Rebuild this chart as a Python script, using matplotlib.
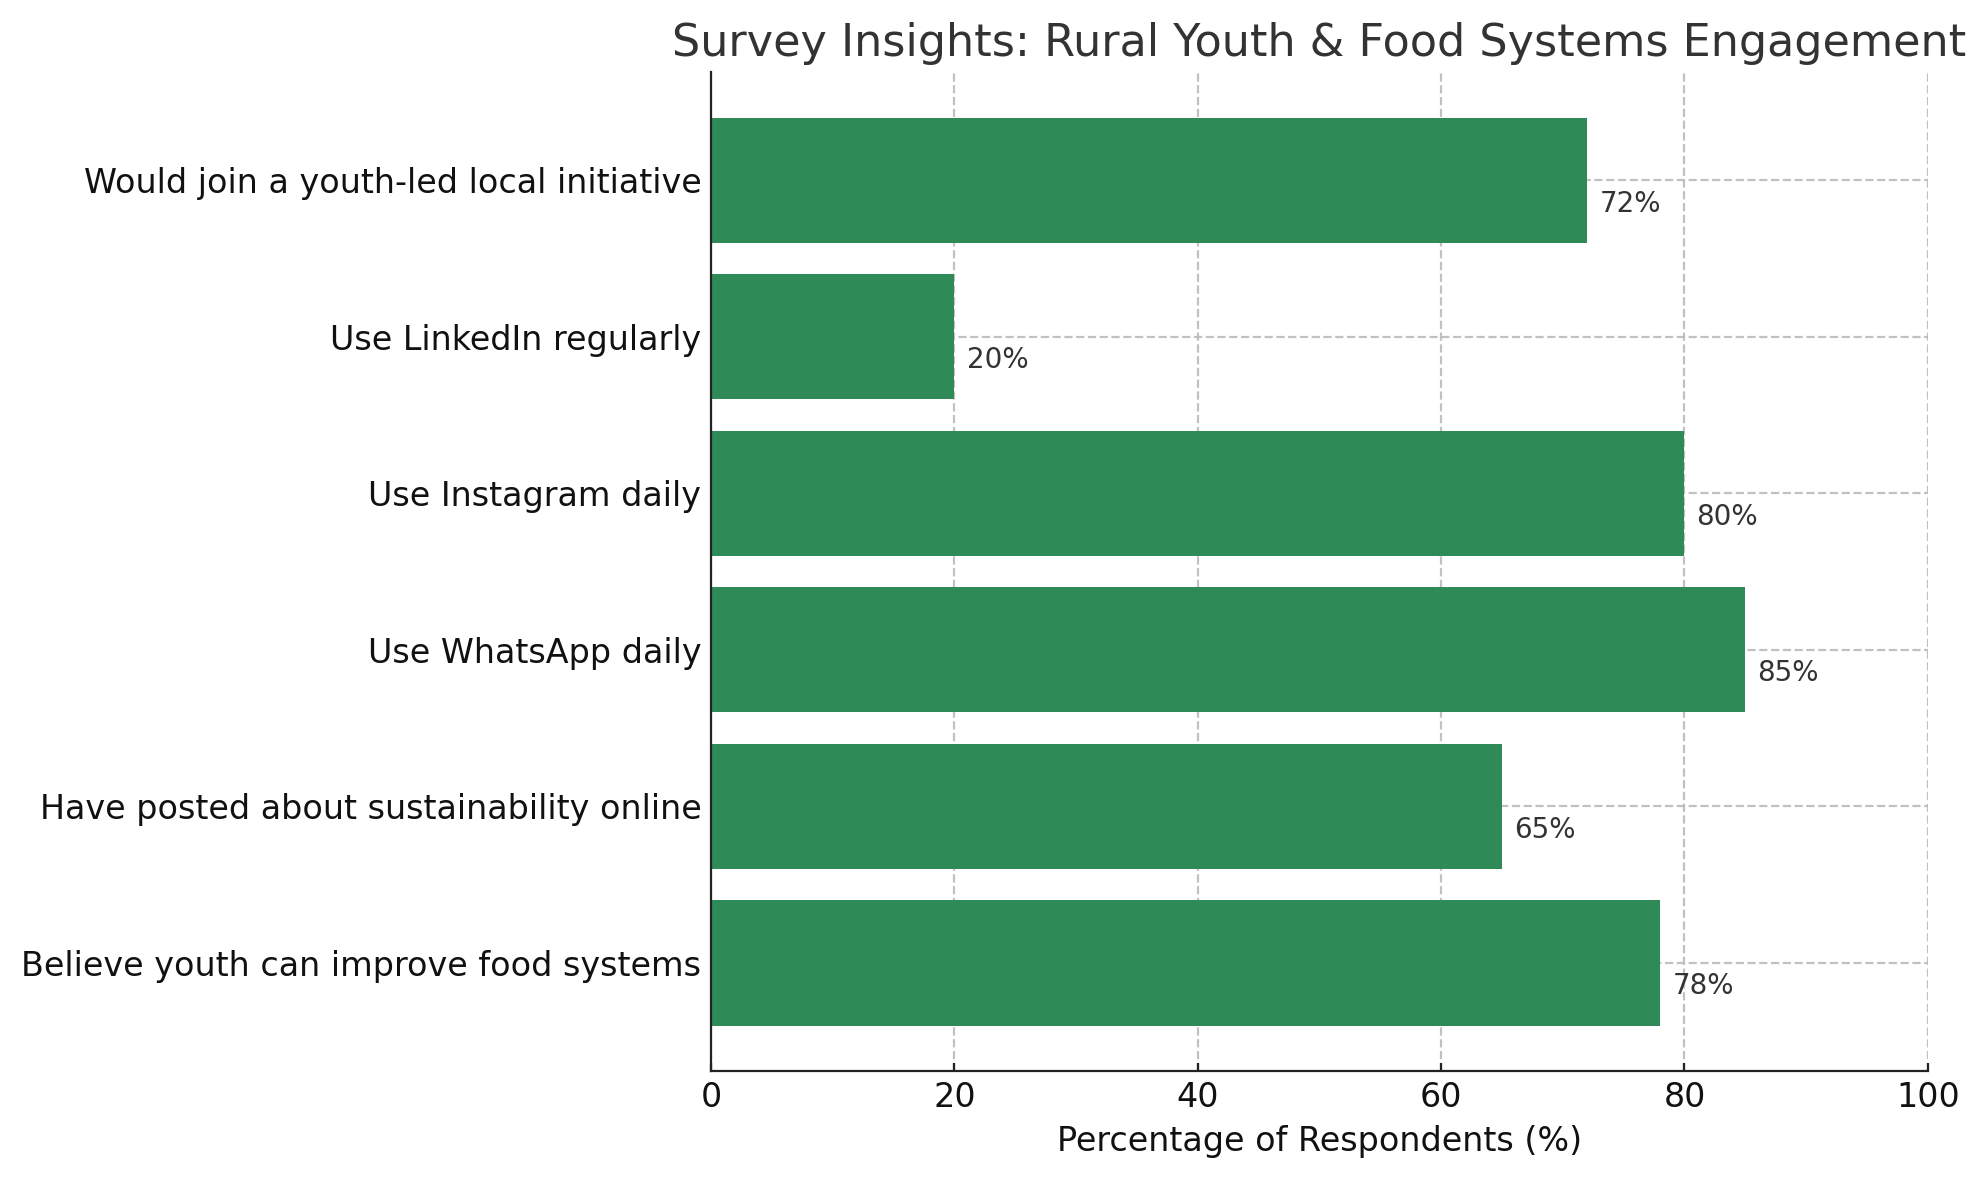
import matplotlib
matplotlib.use("Agg")
import matplotlib.pyplot as plt

categories = [
    "Believe youth can improve food systems",
    "Have posted about sustainability online",
    "Use WhatsApp daily",
    "Use Instagram daily",
    "Use LinkedIn regularly",
    "Would join a youth-led local initiative",
]
values = [78, 65, 85, 80, 20, 72]
xticks = [0, 20, 40, 60, 80, 100]

fig = plt.figure(figsize=(9.93, 5.9), dpi=200)
ax = fig.add_axes([0.358, 0.0924, 0.6127, 0.8464])

bars = ax.barh(categories, values, color="#2E8B57", height=0.8, zorder=2)
ax.set_xlim(0, 100)
ax.set_xticks(xticks)
ax.grid(True, linestyle="--", color="#bbbbbb", linewidth=0.8, alpha=0.9, zorder=0)
for g in ax.get_xgridlines() + ax.get_ygridlines():
    g.set_zorder(3)

for i, v in enumerate(values):
    ax.text(v + 1, i - 0.06, f"{v}%", va="top", ha="left", fontsize=10, color="#333333")

ax.spines["top"].set_visible(False)
ax.spines["right"].set_visible(False)
for s in ("left", "bottom"):
    ax.spines[s].set_zorder(5)
    ax.spines[s].set_color("#222222")
ax.tick_params(axis="both", labelsize=12, colors="#222222", labelcolor="#111111",
               direction="in", length=3)
ax.set_xlabel("Percentage of Respondents (%)", fontsize=12, color="#111111")
ax.set_title("Survey Insights: Rural Youth & Food Systems Engagement", fontsize=16, color="#333333")

fig.savefig("out.png", dpi=200)
